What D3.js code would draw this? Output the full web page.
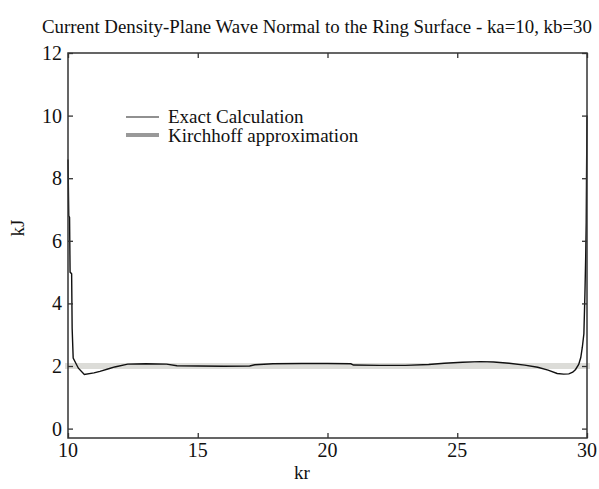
<!DOCTYPE html>
<html>
<head>
<meta charset="utf-8">
<script src="https://cdn.jsdelivr.net/npm/d3@7"></script>
<style>
  body { margin: 0; background: #fff; }
</style>
</head>
<body>
<div id="chart-area"></div>
<script>
// exact solution
const krExact = [10.00, 10.03, 10.06, 10.08, 10.14, 10.16, 10.20, 10.40, 10.63, 11.0, 11.23, 11.6, 11.8,
  12.3, 13.0, 13.8, 14.2, 15.0, 16.0, 17.0, 17.2, 17.9, 19.0, 20.0, 20.9, 21.0, 22.0, 23.0, 23.9,
  24.5, 25.2, 25.9, 26.4, 27.0, 27.6, 28.1, 28.5, 28.85, 29.1, 29.3, 29.45, 29.56, 29.68, 29.76,
  29.82, 29.88, 29.92, 29.95, 29.97, 29.98, 30.0];
const jExact = [8.6, 6.8, 6.75, 5.0, 4.95, 3.2, 2.25, 1.93, 1.73, 1.78, 1.83, 1.92, 1.97,
  2.06, 2.07, 2.06, 2.01, 2.0, 1.99, 2.0, 2.04, 2.07, 2.08, 2.08, 2.07, 2.03, 2.02, 2.02, 2.05,
  2.09, 2.12, 2.14, 2.13, 2.09, 2.03, 1.96, 1.87, 1.76, 1.74, 1.75, 1.8, 1.89, 2.05, 2.27,
  2.6, 3.03, 4.3, 5.5, 6.6, 7.8, 10.0];

// Kirchhoff approximation
const krKirch = [10, 30];
const jKirch = [2, 2];

const xTicks = [10, 15, 20, 25, 30];
const yTicks = [0, 2, 4, 6, 8, 10, 12];

const W = 599, H = 489;
const plot = { left: 68, right: 587, top: 53, bottom: 438 };

// pick the first serif face that is really installed
function pickSerif() {
  const ctx = document.createElement("canvas").getContext("2d");
  const probe = "Kirchhoff approximation 0123";
  const width = f => { ctx.font = "40px " + f; return ctx.measureText(probe).width; };
  const names = ["Liberation Serif", "Times New Roman", "Tinos", "Nimbus Roman", "DejaVu Serif",
                 "Noto Serif", "FreeSerif", "Times"];
  for (const n of names) {
    const a = width(`"${n}", monospace`), b = width("monospace");
    const c = width(`"${n}", sans-serif`), d = width("sans-serif");
    if (a !== b || c !== d) return `"${n}", serif`;
  }
  return "serif";
}
const serif = pickSerif();

const svg = d3.select("#chart-area")
  .append("svg")
    .attr("width", W)
    .attr("height", H)
    .style("font-family", serif);

svg.append("rect").attr("width", W).attr("height", H).attr("fill", "#fff");

const x = d3.scaleLinear().domain([10, 30]).range([plot.left, plot.right]);
const y = d3.scaleLinear().domain([-0.3, 12]).range([plot.bottom, plot.top]);

const line = d3.line()
  .x(d => x(d[0]))
  .y(d => y(d[1]));

// Kirchhoff band
svg.append("path")
  .datum(krKirch.map((k, i) => [k, jKirch[i]]))
  .attr("d", line)
  .attr("fill", "none")
  .attr("stroke", "#dcdcd8")
  .attr("stroke-width", 6)
  .attr("stroke-linecap", "square");

// exact curve
svg.append("path")
  .datum(krExact.map((k, i) => [k, jExact[i]]))
  .attr("d", line)
  .attr("fill", "none")
  .attr("stroke", "#111")
  .attr("stroke-width", 1.4);

// frame
svg.append("rect")
  .attr("x", plot.left).attr("y", plot.top)
  .attr("width", plot.right - plot.left).attr("height", plot.bottom - plot.top)
  .attr("fill", "none")
  .attr("stroke", "#333")
  .attr("stroke-width", 1.5);

// inner ticks, all four sides
const tickLen = 5;
const xAxisB = d3.axisBottom(x).tickValues(xTicks).tickSize(-tickLen).tickFormat("");
const xAxisT = d3.axisTop(x).tickValues(xTicks).tickSize(-tickLen).tickFormat("");
const yAxisL = d3.axisLeft(y).tickValues(yTicks).tickSize(-tickLen).tickFormat("");
const yAxisR = d3.axisRight(y).tickValues(yTicks).tickSize(-tickLen).tickFormat("");

[[xAxisB, `translate(0,${plot.bottom})`], [xAxisT, `translate(0,${plot.top})`],
 [yAxisL, `translate(${plot.left},0)`], [yAxisR, `translate(${plot.right},0)`]].forEach(([ax, tr]) => {
  const g = svg.append("g").attr("transform", tr).call(ax);
  g.select(".domain").remove();
  g.selectAll("line").attr("stroke", "#333").attr("stroke-width", 1.3);
});

// tick labels
svg.selectAll(".xlab")
  .data(xTicks)
  .enter()
  .append("text")
    .attr("class", "xlab")
    .attr("x", d => x(d))
    .attr("y", 457)
    .attr("text-anchor", "middle")
    .attr("font-size", "20px")
    .attr("fill", "#111")
    .text(d => d);

svg.selectAll(".ylab")
  .data(yTicks)
  .enter()
  .append("text")
    .attr("class", "ylab")
    .attr("x", 62)
    .attr("y", d => y(d) + 7)
    .attr("text-anchor", "end")
    .attr("font-size", "20px")
    .attr("fill", "#111")
    .text(d => d);

// title, sized to span the same width as the reference
const title = svg.append("text")
  .attr("x", 317)
  .attr("y", 33)
  .attr("text-anchor", "middle")
  .attr("font-size", "17px")
  .attr("fill", "#111")
  .text("Current Density-Plane Wave Normal to the Ring Surface - ka=10, kb=30");
const tw = title.node().getComputedTextLength();
title.attr("font-size", Math.min(19, 17 * 550 / tw).toFixed(2) + "px");

svg.append("text")
  .attr("x", 302)
  .attr("y", 479)
  .attr("text-anchor", "middle")
  .attr("font-size", "19px")
  .attr("fill", "#111")
  .text("kr");

svg.append("text")
  .attr("transform", "translate(24,228) rotate(-90)")
  .attr("text-anchor", "middle")
  .attr("font-size", "19px")
  .attr("fill", "#111")
  .text("kJ");

// legend
const legend = svg.append("g");
legend.append("line")
  .attr("x1", 126).attr("x2", 159).attr("y1", 117).attr("y2", 117)
  .attr("stroke", "#222").attr("stroke-width", 1.2);
legend.append("line")
  .attr("x1", 126).attr("x2", 159).attr("y1", 135).attr("y2", 135)
  .attr("stroke", "#999").attr("stroke-width", 4);
legend.append("text")
  .attr("x", 168).attr("y", 123)
  .attr("font-size", "19px")
  .attr("fill", "#111")
  .text("Exact Calculation");
legend.append("text")
  .attr("x", 168).attr("y", 142)
  .attr("font-size", "19px")
  .attr("fill", "#111")
  .text("Kirchhoff approximation");
</script>
</body>
</html>
